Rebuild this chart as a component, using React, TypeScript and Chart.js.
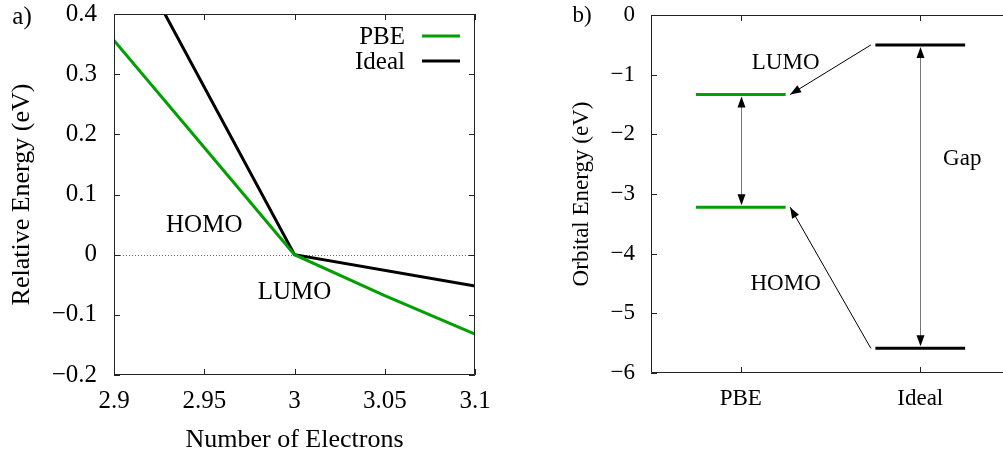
import React, { useEffect, useRef } from 'react';
import { Chart, registerables } from 'chart.js';

Chart.register(...registerables);

const SERIF = "'Liberation Serif', 'DejaVu Serif', 'Times New Roman', serif";
Chart.defaults.font.family = SERIF;
const GREEN = '#00a000';

// ---------- Panel a) ----------
const pbeElectrons = [2.9, 2.95, 3.0, 3.05, 3.1];
const pbeEnergy = [0.356, 0.178, 0.0, -0.068, -0.132];
const idealElectrons = [2.9, 3.0, 3.1];
const idealEnergy = [0.557, 0.0, -0.052];
const electronTicks = [2.9, 2.95, 3.0, 3.05, 3.1];
const electronTickLabels = ['2.9', '2.95', '3', '3.05', '3.1'];
const relEnergyTicks = [-0.2, -0.1, 0, 0.1, 0.2, 0.3, 0.4];
const relEnergyTickLabels = ['−0.2', '−0.1', '0', '0.1', '0.2', '0.3', '0.4'];
const seriesNamesA = ['PBE', 'Ideal'];
const annotationsA = [
  { text: 'HOMO', x: 2.95, y: 0.049 },
  { text: 'LUMO', x: 3.0, y: -0.062 },
];

// ---------- Panel b) ----------
const methods = ['PBE', 'Ideal'];
const methodPositions = [1, 2];
const lumoEnergy = [-1.333, -0.502];
const homoEnergy = [-3.22, -5.587];
const orbitalTicks = [-6, -5, -4, -3, -2, -1, 0];
const orbitalTickLabels = ['−6', '−5', '−4', '−3', '−2', '−1', '0'];
const annotationsB = [
  { text: 'LUMO', x: 1.25, y: -0.81 },
  { text: 'HOMO', x: 1.25, y: -4.51 },
  { text: 'Gap', x: 2.234, y: -2.42 },
];

const LEVEL_HALF = 0.25;
const ARROW_GAP = 0.025;

function drawHead(ctx: CanvasRenderingContext2D, tx: number, ty: number, fx: number, fy: number, len = 11, half = 4) {
  const ang = Math.atan2(ty - fy, tx - fx);
  const bx = tx - len * Math.cos(ang);
  const by = ty - len * Math.sin(ang);
  const nx = -Math.sin(ang) * half;
  const ny = Math.cos(ang) * half;
  ctx.beginPath();
  ctx.moveTo(tx, ty);
  ctx.lineTo(bx + nx, by + ny);
  ctx.lineTo(bx - nx, by - ny);
  ctx.closePath();
  ctx.fill();
}

function drawFrame(chart: any, xVals: number[], yVals: number[]) {
  const { ctx, chartArea: a } = chart;
  const xs = chart.scales.x;
  const ys = chart.scales.y;
  const T = 6;
  ctx.save();
  ctx.strokeStyle = '#222';
  ctx.lineWidth = 1;
  ctx.beginPath();
  xVals.forEach((v) => {
    const px = Math.round(xs.getPixelForValue(v)) + 0.5;
    ctx.moveTo(px, a.bottom); ctx.lineTo(px, a.bottom - T);
    ctx.moveTo(px, a.top); ctx.lineTo(px, a.top + T);
  });
  yVals.forEach((v) => {
    const py = Math.round(ys.getPixelForValue(v)) + 0.5;
    ctx.moveTo(a.left, py); ctx.lineTo(a.left + T, py);
    ctx.moveTo(a.right, py); ctx.lineTo(a.right - T, py);
  });
  ctx.stroke();
  ctx.beginPath();
  const l = Math.round(a.left) + 0.5;
  const r = Math.round(a.right) - 0.5;
  const t = Math.round(a.top) + 0.5;
  const b = Math.round(a.bottom) - 0.5;
  ctx.rect(l, t, r - l, b - t);
  ctx.stroke();
  ctx.restore();
}

function fixPad(s: any) {
  s.paddingTop = 0;
  s.paddingBottom = 0;
  s.paddingLeft = 0;
  s.paddingRight = 0;
}

function PanelA() {
  const ref = useRef<HTMLCanvasElement>(null);
  useEffect(() => {
    if (!ref.current) return;
    const font = { family: SERIF, size: 25 };
    const titleFont = { family: SERIF, size: 26 };
    const colors = [GREEN, '#000000'];
    const plugin = {
      id: 'panelA',
      beforeDatasetsDraw(chart: any) {
        const { ctx, chartArea: a } = chart;
        const py = Math.round(chart.scales.y.getPixelForValue(0)) + 0.5;
        ctx.save();
        ctx.strokeStyle = '#666';
        ctx.lineWidth = 1;
        ctx.setLineDash([1, 2]);
        ctx.beginPath();
        ctx.moveTo(a.left, py);
        ctx.lineTo(a.right, py);
        ctx.stroke();
        ctx.restore();
      },
      afterDatasetsDraw(chart: any) {
        const { ctx, chartArea: a } = chart;
        drawFrame(chart, electronTicks, relEnergyTicks);
        ctx.save();
        ctx.fillStyle = '#000';
        ctx.font = `25px ${SERIF}`;
        ctx.textAlign = 'center';
        ctx.textBaseline = 'middle';
        annotationsA.forEach((n) => {
          ctx.fillText(n.text, chart.scales.x.getPixelForValue(n.x), chart.scales.y.getPixelForValue(n.y));
        });
        ctx.fillText('a)', 22, 17);
        // legend
        ctx.textAlign = 'right';
        seriesNamesA.forEach((name, i) => {
          const y = a.top + 22 + i * 25;
          ctx.fillStyle = '#000';
          ctx.fillText(name, a.right - 70, y + 1);
          ctx.strokeStyle = colors[i];
          ctx.lineWidth = 3;
          ctx.beginPath();
          ctx.moveTo(a.right - 53, y);
          ctx.lineTo(a.right - 15, y);
          ctx.stroke();
        });
        ctx.restore();
      },
    };
    const chart = new Chart(ref.current, {
      type: 'line',
      data: {
        datasets: [
          {
            label: seriesNamesA[0],
            data: pbeElectrons.map((x, i) => ({ x, y: pbeEnergy[i] })),
            borderColor: colors[0],
            borderWidth: 3,
            pointRadius: 0,
            clip: 0,
          },
          {
            label: seriesNamesA[1],
            data: idealElectrons.map((x, i) => ({ x, y: idealEnergy[i] })),
            borderColor: colors[1],
            borderWidth: 3,
            pointRadius: 0,
            clip: 0,
          },
        ],
      },
      options: {
        animation: false,
        responsive: false,
        layout: { padding: { left: 0, right: 25, top: 14, bottom: 0 } },
        plugins: { legend: { display: false }, tooltip: { enabled: false } },
        scales: {
          x: {
            type: 'linear',
            min: 2.9,
            max: 3.1,
            afterBuildTicks: (s: any) => { s.ticks = electronTicks.map((v) => ({ value: v })); },
            afterFit: (s: any) => { s.height = 84; fixPad(s); },
            ticks: {
              callback: (_v: any, i: number) => electronTickLabels[i],
              font: { ...font, lineHeight: 1 },
              color: '#000',
              padding: 14,
              maxRotation: 0,
              autoSkip: false,
            },
            grid: { display: false, drawTicks: false },
            border: { display: false },
            title: { display: true, text: 'Number of Electrons', font: titleFont, color: '#000', padding: { top: 0, bottom: 3 } },
          },
          y: {
            type: 'linear',
            min: -0.2,
            max: 0.4,
            afterBuildTicks: (s: any) => { s.ticks = relEnergyTicks.map((v) => ({ value: v })); },
            afterFit: (s: any) => { s.width = 114; fixPad(s); },
            ticks: {
              callback: (_v: any, i: number) => relEnergyTickLabels[i],
              font: { ...font, lineHeight: 1 },
              color: '#000',
              padding: 17,
              autoSkip: false,
            },
            grid: { display: false, drawTicks: false },
            border: { display: false },
            title: { display: true, text: 'Relative Energy (eV)', font: titleFont, color: '#000', padding: { top: 7, bottom: 0 } },
          },
        },
      },
      plugins: [plugin],
    } as any);
    return () => chart.destroy();
  }, []);
  return <canvas ref={ref} width={500} height={459} style={{ position: 'absolute', left: 0, top: 0 }} />;
}

function PanelB() {
  const ref = useRef<HTMLCanvasElement>(null);
  useEffect(() => {
    if (!ref.current) return;
    const font = { family: SERIF, size: 23 };
    const colors = [GREEN, '#000000'];
    const datasets: any[] = [];
    methods.forEach((m, i) => {
      [lumoEnergy[i], homoEnergy[i]].forEach((e, k) => {
        datasets.push({
          label: `${m} ${k === 0 ? 'LUMO' : 'HOMO'}`,
          data: [
            { x: methodPositions[i] - LEVEL_HALF, y: e },
            { x: methodPositions[i] + LEVEL_HALF, y: e },
          ],
          borderColor: colors[i],
          borderWidth: 3,
          pointRadius: 0,
          borderCapStyle: 'butt',
          clip: 0,
        });
      });
    });
    const plugin = {
      id: 'panelB',
      afterDatasetsDraw(chart: any) {
        const { ctx } = chart;
        const xs = chart.scales.x;
        const ys = chart.scales.y;
        drawFrame(chart, methodPositions, orbitalTicks);
        ctx.save();
        methodPositions.forEach((p, i) => {
          const px = Math.round(xs.getPixelForValue(p)) + 0.5;
          const y1 = ys.getPixelForValue(lumoEnergy[i]) + 2;
          const y2 = ys.getPixelForValue(homoEnergy[i]) - 2;
          ctx.strokeStyle = '#777';
          ctx.lineWidth = 1;
          ctx.beginPath();
          ctx.moveTo(px, y1 + 6);
          ctx.lineTo(px, y2 - 6);
          ctx.stroke();
          ctx.fillStyle = '#000';
          drawHead(ctx, px, y1, px, y2);
          drawHead(ctx, px, y2, px, y1);
        });
        [lumoEnergy, homoEnergy].forEach((lev) => {
          const sx = xs.getPixelForValue(methodPositions[1] - LEVEL_HALF - ARROW_GAP);
          const sy = ys.getPixelForValue(lev[1]);
          const ex = xs.getPixelForValue(methodPositions[0] + LEVEL_HALF + ARROW_GAP);
          const ey = ys.getPixelForValue(lev[0]);
          ctx.strokeStyle = '#000';
          ctx.lineWidth = 1;
          ctx.beginPath();
          ctx.moveTo(sx, sy);
          ctx.lineTo(ex, ey);
          ctx.stroke();
          ctx.fillStyle = '#000';
          drawHead(ctx, ex, ey, sx, sy);
        });
        ctx.fillStyle = '#000';
        ctx.font = `23px ${SERIF}`;
        ctx.textAlign = 'center';
        ctx.textBaseline = 'middle';
        annotationsB.forEach((n) => {
          ctx.fillText(n.text, xs.getPixelForValue(n.x), ys.getPixelForValue(n.y));
        });
        ctx.fillText('b)', 82, 16);
        ctx.restore();
      },
    };
    const chart = new Chart(ref.current, {
      type: 'line',
      data: { datasets },
      options: {
        animation: false,
        responsive: false,
        layout: { padding: { left: 0, right: 0, top: 15, bottom: 0 } },
        plugins: { legend: { display: false }, tooltip: { enabled: false } },
        scales: {
          x: {
            type: 'linear',
            min: 0.5,
            max: 2.5,
            afterBuildTicks: (s: any) => { s.ticks = methodPositions.map((v) => ({ value: v })); },
            afterFit: (s: any) => { s.height = 86; fixPad(s); },
            ticks: {
              callback: (_v: any, i: number) => methods[i],
              font: { ...font, lineHeight: 1 },
              color: '#000',
              padding: 14,
              maxRotation: 0,
              autoSkip: false,
            },
            grid: { display: false, drawTicks: false },
            border: { display: false },
          },
          y: {
            type: 'linear',
            min: -6,
            max: 0,
            afterBuildTicks: (s: any) => { s.ticks = orbitalTicks.map((v) => ({ value: v })); },
            afterFit: (s: any) => { s.width = 151; fixPad(s); },
            ticks: {
              callback: (_v: any, i: number) => orbitalTickLabels[i],
              font: { ...font, lineHeight: 1 },
              color: '#000',
              padding: 16,
              autoSkip: false,
            },
            grid: { display: false, drawTicks: false },
            border: { display: false },
            title: { display: true, text: 'Orbital Energy (eV)', font, color: '#000', padding: { top: 68, bottom: 0 } },
          },
        },
      },
      plugins: [plugin],
    } as any);
    return () => chart.destroy();
  }, []);
  return <canvas ref={ref} width={510} height={459} style={{ position: 'absolute', left: 500, top: 0 }} />;
}

export default function App() {
  return (
    <div style={{ position: 'fixed', left: 0, top: 0, width: 1003, height: 459, overflow: 'hidden', background: '#fff' }}>
      <PanelA />
      <PanelB />
    </div>
  );
}
